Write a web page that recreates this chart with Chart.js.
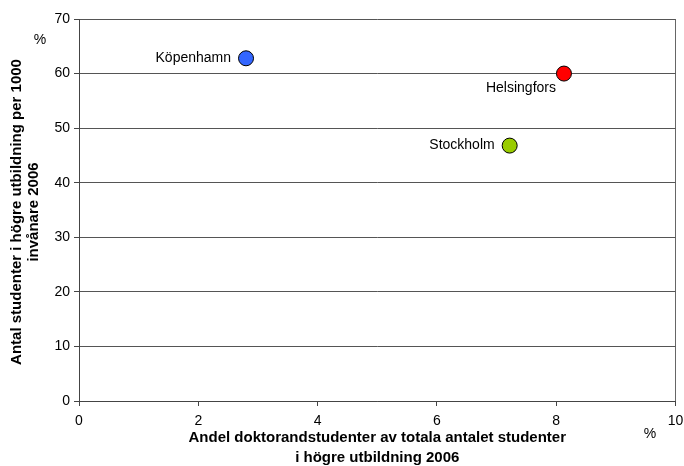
<!DOCTYPE html>
<html>
<head>
<meta charset="utf-8">
<script src="https://cdn.jsdelivr.net/npm/chart.js@4"></script>
<style>
  body { margin: 0; background: #fff; }
</style>
</head>
<body>
<canvas id="myChart" width="684" height="466"></canvas>
<script>
// data
let cities = ['Köpenhamn', 'Helsingfors', 'Stockholm'];
let doktorandAndel = [2.8, 8.13, 7.22];
let studenterPer1000 = [62.8, 60.0, 46.8];
let pointColors = ['#3366ff', '#ff0000', '#99cc00'];
let labelSide = ['left', 'below', 'left'];

let xTitle = ['Andel doktorandstudenter av totala antalet studenter', 'i högre utbildning 2006'];
let yTitle = ['Antal studenter i högre utbildning per 1000', 'invånare 2006'];

let font = '"Liberation Sans", Arial, sans-serif';

let points = cities.map(function (c, i) {
  return { x: doktorandAndel[i], y: studenterPer1000[i] };
});

let labelPlugin = {
  id: 'labels',
  afterDraw: function (chart) {
    let ctx = chart.ctx;
    let meta = chart.getDatasetMeta(0);
    ctx.save();
    ctx.fillStyle = '#000';
    ctx.font = '14px ' + font;
    meta.data.forEach(function (el, i) {
      if (labelSide[i] == 'left') {
        ctx.textAlign = 'right';
        ctx.textBaseline = 'middle';
        ctx.fillText(cities[i], el.x - 15, el.y);
      } else {
        ctx.textAlign = 'center';
        ctx.textBaseline = 'middle';
        ctx.fillText(cities[i], el.x - 43, el.y + 15);
      }
    });

    // percent signs
    ctx.textAlign = 'center';
    ctx.fillText('%', 40, 40);
    ctx.fillText('%', 650, 434);

    // axis titles
    let area = chart.chartArea;
    ctx.font = 'bold 15px ' + font;
    let cx = (area.left + area.right) / 2;
    ctx.fillText(xTitle[0], cx, 438);
    ctx.fillText(xTitle[1], cx, 458);

    ctx.translate(17, 212);
    ctx.rotate(-Math.PI / 2);
    ctx.fillText(yTitle[0], 0, 0);
    ctx.fillText(yTitle[1], 0, 17);
    ctx.restore();
  }
};

let config = {
  type: 'scatter',
  data: {
    datasets: [{
      data: points,
      backgroundColor: pointColors,
      borderColor: '#000',
      borderWidth: 1,
      pointRadius: 7.5,
      pointHoverRadius: 7.5
    }]
  },
  options: {
    responsive: false,
    animation: false,
    layout: { padding: { top: 19, right: 7, left: 0, bottom: 0 } },
    plugins: {
      legend: { display: false },
      tooltip: { enabled: false }
    },
    scales: {
      x: {
        type: 'linear',
        min: 0,
        max: 10,
        afterFit: function (scale) {
          scale.height = 65;
          scale.paddingLeft = 0;
          scale.paddingRight = 0;
        },
        ticks: { stepSize: 2, color: '#000', font: { family: font, size: 14 }, padding: 7 },
        grid: {
          color: function (c) { return c.tick && c.tick.value == 10 ? '#666' : 'rgba(0,0,0,0)'; },
          tickColor: '#444',
          tickLength: 5
        },
        border: { color: '#444', width: 1 }
      },
      y: {
        min: 0,
        max: 70,
        afterFit: function (scale) {
          scale.width = 79;
          scale.paddingTop = 0;
          scale.paddingBottom = 0;
        },
        ticks: { stepSize: 10, color: '#000', font: { family: font, size: 14 }, padding: 4 },
        grid: { color: '#555', tickColor: '#444', tickLength: 5 },
        border: { color: '#444', width: 1 }
      }
    }
  },
  plugins: [labelPlugin]
};

let myChart = new Chart(document.getElementById('myChart'), config);
</script>
</body>
</html>
